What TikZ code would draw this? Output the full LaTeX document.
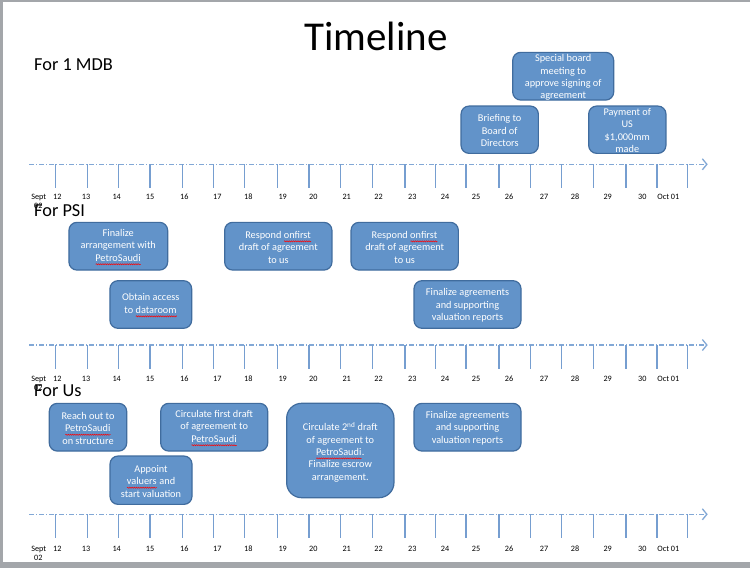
\documentclass[tikz,border=0pt]{standalone}
\usepackage{fontspec}
\setmainfont{Carlito}
\usetikzlibrary{arrows.meta,decorations.pathmorphing}
\definecolor{boxblue}{RGB}{98,147,201}
\definecolor{boxedge}{RGB}{64,108,158}
\definecolor{axisblue}{RGB}{130,168,214}
\definecolor{tickblue}{RGB}{118,158,208}
\definecolor{framegray}{RGB}{163,166,170}
\newsavebox\spbox
\newcommand\spell[1]{\sbox\spbox{#1}\rlap{\usebox\spbox}\raisebox{-3pt}{\tikz[baseline=0pt]\draw[red, line width=0.5pt, decorate, decoration={snake, amplitude=0.6pt, segment length=2.2pt}] (0pt,0pt) -- (\the\wd\spbox,0pt);}}
\begin{document}
\begin{tikzpicture}[x=1pt,y=-1pt,
 tlbox/.style={draw=boxedge, fill=boxblue, line width=1.2pt, rounded corners=8pt, inner sep=0pt},
 tltext/.style={text=white, align=center, inner sep=0pt, font=\fontsize{10.3}{12.4}\selectfont},
 section/.style={anchor=base west, inner sep=0pt, font=\fontsize{18.3}{20}\selectfont},
 daylabel/.style={anchor=base, inner sep=0pt, font=\fontsize{8.2}{9}\selectfont},
 axisline/.style={draw=axisblue, line width=1.1pt, dash pattern=on 5pt off 2pt on 1pt off 2pt, -{Straight Barb[length=4.5pt,width=11pt,line width=1.3pt]}},
 tickline/.style={draw=tickblue, line width=1.1pt}]
\useasboundingbox (0,0) rectangle (750,568);
% page frame
\fill[framegray] (0,0) rectangle (750,568);
\fill[white] (3,1.5) rectangle (750,561.5);
% title
\node[anchor=base, inner sep=0pt, font=\fontsize{41}{45}\selectfont] (title) at (376,50) {Timeline};
% axes
\foreach \ay/\lb/\nm in {164.3/199.8/a, 345/381/b, 514.3/551/c}{
  \coordinate (\nm s) at (29.3,\ay);
  \coordinate (\nm e) at (707.7,\ay);
  \draw[axisline] (\nm s) -- (\nm e);
  \foreach \tx [count=\i] in {55.7,87.3,118.3,150,182.7,213.7,244.3,277.3,309,340.3,372.3,405,435.3,466,499,530.3,561.7,593.7,626,657,687.7}
    \draw[tickline] (\tx,\ay) -- (\tx,\ay+23.7);
  \foreach \lx/\lt [count=\i] in {38.7/Sept,57.3/12,86/13,116.7/14,150/15,184.3/16,217.3/17,248.3/18,282.7/19,313.3/20,346.7/21,378.5/22,412.3/23,445/24,476/25,509/26,544/27,575/28,607.7/29,642.3/30,668.3/Oct 01}
    \node[daylabel] (\nm l\i) at (\lx,\lb) {\lt};
  \node[daylabel, anchor=base west] (\nm z) at (34,\lb+9) {02};
}
\node[section] (s1) at (34,70.7) {For 1 MDB};
\node[section] (s2) at (34,216) {For PSI};
\node[section] (s3) at (34,396.7) {For Us};
% For 1 MDB
\node[tlbox, minimum width=101pt, minimum height=47.7pt] (b1) at (563.2,76.2) {};
\node[tltext] (b1t) at ([yshift=-1.5pt]b1.center) {Special board\\meeting to\\approve signing of\\agreement};
\node[tlbox, minimum width=77.3pt, minimum height=47.3pt] (b2) at (499.7,129.7) {};
\node[tltext] (b2t) at ([yshift=-1pt]b2.center) {Briefing to\\Board of\\Directors};
\node[tlbox, minimum width=77.3pt, minimum height=47.3pt] (b3) at (627.3,129.7) {};
\node[tltext] (b3t) at ([yshift=-1pt]b3.center) {Payment of\\US\\\$1,000mm\\made};
% For PSI
\node[tlbox, minimum width=98.7pt, minimum height=47.7pt] (p1) at (118.3,246.2) {};
\node[tltext] (p1t) at ([yshift=-1pt]p1.center) {Finalize\\arrangement with\\\spell{PetroSaudi}};
\node[tlbox, minimum width=107.3pt, minimum height=47.7pt] (p2) at (278.3,246.2) {};
\node[tltext] (p2t) at ([yshift=-1pt]p2.center) {Respond \spell{onfirst}\\draft of agreement\\to us};
\node[tlbox, minimum width=107.3pt, minimum height=47.7pt] (p3) at (404.7,246.2) {};
\node[tltext] (p3t) at ([yshift=-1pt]p3.center) {Respond \spell{onfirst}\\draft of agreement\\to us};
\node[tlbox, minimum width=81.7pt, minimum height=47.6pt] (p4) at (150.8,304.5) {};
\node[tltext] (p4t) at ([yshift=-1pt]p4.center) {Obtain access\\to \spell{dataroom}};
\node[tlbox, minimum width=107pt, minimum height=47.6pt] (p5) at (467.5,304.5) {};
\node[tltext] (p5t) at ([yshift=-1pt]p5.center) {Finalize agreements\\and supporting\\valuation reports};
% For Us
\node[tlbox, minimum width=77.4pt, minimum height=47.7pt] (u1) at (88,427.2) {};
\node[tltext] (u1t) at ([yshift=-1pt]u1.center) {Reach out to\\\spell{PetroSaudi}\\on structure};
\node[tlbox, minimum width=107pt, minimum height=47.7pt] (u2) at (214.2,427.2) {};
\node[tltext] (u2t) at ([yshift=-1pt]u2.center) {Circulate first draft\\of agreement to\\\spell{PetroSaudi}};
\node[tlbox, minimum width=82pt, minimum height=48.3pt] (u3) at (151,480.2) {};
\node[tltext] (u3t) at ([yshift=-1pt]u3.center) {Appoint\\\spell{valuers} and\\start valuation};
\node[tlbox, rounded corners=15pt, minimum width=107.3pt, minimum height=94.4pt] (u4) at (340.3,450.5) {};
\node[tltext] (u4t) at ([yshift=-1.5pt]u4.center) {Circulate 2\textsuperscript{nd} draft\\of agreement to\\\spell{PetroSaudi}.\\Finalize escrow\\arrangement.};
\node[tlbox, minimum width=107pt, minimum height=47.7pt] (u5) at (467.5,427.2) {};
\node[tltext] (u5t) at ([yshift=-1pt]u5.center) {Finalize agreements\\and supporting\\valuation reports};
\end{tikzpicture}
\end{document}
